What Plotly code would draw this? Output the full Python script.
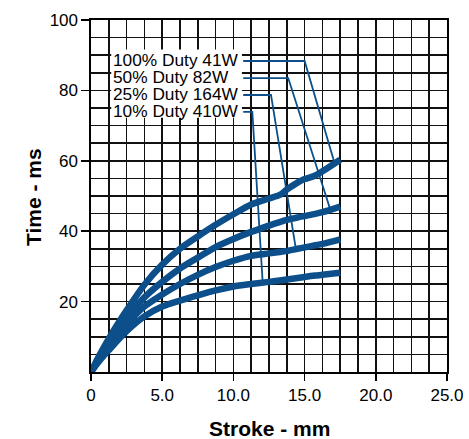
import plotly.graph_objects as go

# ---- data ----
stroke = [0, 0.6, 1.25, 2.5, 3.75, 5.0, 6.25, 7.5, 8.75, 10.0, 11.25, 12.5,
          13.25, 13.75, 14.5, 15.0, 15.75, 16.25, 17.5]
duty100_41w = [0, 4.8, 9.5, 17.5, 24.8, 30.5, 35.0, 38.5, 41.8, 44.8, 47.6, 49.3,
               50.3, 51.8, 53.8, 54.8, 55.8, 57.0, 60.3]
duty50_82w = [0, 4.2, 8.3, 15.3, 21.2, 25.6, 29.4, 32.5, 35.5, 37.8, 39.8, 41.6,
              42.6, 43.2, 43.9, 44.3, 44.9, 45.4, 47.0]
duty25_164w = [0, 3.7, 7.3, 13.6, 18.6, 22.0, 25.0, 27.6, 29.8, 31.6, 33.0, 33.7,
               34.1, 34.4, 35.0, 35.4, 36.0, 36.4, 37.7]
duty10_410w = [0, 3.2, 6.2, 11.6, 15.8, 18.6, 20.3, 21.8, 23.2, 24.3, 25.0, 25.6,
               26.0, 26.3, 26.7, 27.0, 27.4, 27.6, 28.2]

series_names = ["100% Duty 41W", "50% Duty 82W", "25% Duty 164W", "10% Duty 410W"]
series_values = [duty100_41w, duty50_82w, duty25_164w, duty10_410w]

x_tick_vals = [0, 5, 10, 15, 20, 25]
x_tick_text = ["0", "5.0", "10.0", "15.0", "20.0", "25.0"]
y_tick_vals = [20, 40, 60, 80, 100]
y_tick_text = ["20", "40", "60", "80", "100"]

BLUE = "#0c4f8a"
FONT = "Liberation Sans, Arial, Helvetica, sans-serif"

fig = go.Figure()
for name, vals in zip(series_names, series_values):
    fig.add_trace(go.Scatter(
        x=stroke, y=vals, mode="lines", name=name,
        line=dict(color=BLUE, width=6.5, shape="spline", smoothing=0.8),
        showlegend=False, hoverinfo="skip"))

# legend box (white) with labels and leader lines
shapes = [dict(type="rect", xref="x", yref="y", x0=1.42, x1=10.6, y0=72.2, y1=91.6,
               fillcolor="white", line=dict(width=0), layer="above")]
leaders = [
    [(10.69, 88.35), (15.0, 88.35), (17.05, 60.1)],
    [(10.69, 83.5), (13.85, 83.5), (16.77, 46.6)],
    [(10.69, 78.7), (12.64, 78.7), (14.39, 34.9)],
    [(10.69, 73.9), (11.33, 73.9), (12.05, 25.9)],
]
for pts in leaders:
    path = "M " + " L ".join(f"{px},{py}" for px, py in pts)
    shapes.append(dict(type="path", xref="x", yref="y", path=path,
                       line=dict(color=BLUE, width=1.8), layer="above"))

annotations = []
label_y = [88.6, 83.8, 79.0, 74.2]
for name, ly in zip(series_names, label_y):
    annotations.append(dict(x=1.40, y=ly, xref="x", yref="y", text=name,
                            showarrow=False, xanchor="left", yanchor="middle",
                            font=dict(family=FONT, size=17.3, color="black")))

# axis titles
annotations.append(dict(x=0.5, y=0, xref="paper", yref="paper", text="<b>Stroke - mm</b>",
                        showarrow=False, xanchor="center", yanchor="middle", yshift=-56,
                        font=dict(family=FONT, size=21, color="black")))
annotations.append(dict(x=0, y=0.497, xref="paper", yref="paper", text="<b>Time - ms</b>",
                        showarrow=False, xanchor="center", yanchor="middle", xshift=-58,
                        textangle=-90, font=dict(family=FONT, size=21, color="black")))

fig.update_layout(
    width=469, height=439,
    margin=dict(l=91, r=22, t=20, b=67, autoexpand=False),
    paper_bgcolor="white", plot_bgcolor="white",
    font=dict(family=FONT, size=17, color="black"),
    shapes=shapes, annotations=annotations,
    xaxis=dict(range=[0, 25], tickmode="array", tickvals=x_tick_vals, ticktext=x_tick_text,
               ticks="outside", ticklen=7, tickwidth=1.6, tickcolor="black",
               showgrid=True, gridcolor="#111", gridwidth=1.6,
               minor=dict(dtick=1.25, tick0=0, showgrid=True, gridcolor="#111", gridwidth=1.6, ticks=""),
               showline=True, linecolor="black", linewidth=1.6, mirror=True,
               zeroline=False, fixedrange=True, automargin=False,
               tickfont=dict(family=FONT, size=17, color="black")),
    yaxis=dict(range=[0, 100], tickmode="array", tickvals=y_tick_vals, ticktext=y_tick_text,
               ticks="outside", ticklen=8, tickwidth=1.6, tickcolor="black",
               showgrid=True, gridcolor="#111", gridwidth=1.6,
               minor=dict(dtick=5, tick0=0, showgrid=True, gridcolor="#111", gridwidth=1.6, ticks=""),
               showline=True, linecolor="black", linewidth=1.6, mirror=True,
               zeroline=False, fixedrange=True, automargin=False,
               tickfont=dict(family=FONT, size=17, color="black")),
)

# remove the page's default body margin so the figure fills the 469x439 window exactly
fig.write_html("out.html", config={"displayModeBar": False, "staticPlot": True},
               post_script="document.body.style.margin='0px';")
